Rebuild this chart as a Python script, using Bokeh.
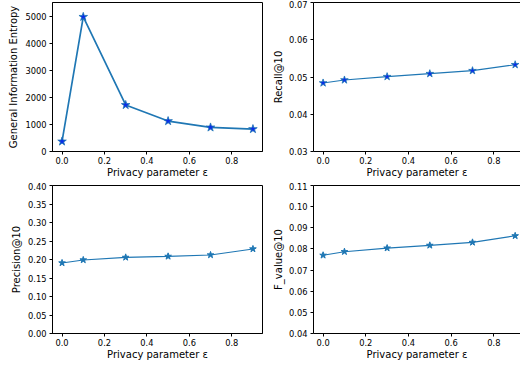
from bokeh.plotting import figure
from bokeh.layouts import gridplot
from bokeh.models import FixedTicker, NumeralTickFormatter, LinearAxis, Range1d
from bokeh.embed import file_html
from bokeh.resources import INLINE

# ---- data ----
eps = [0.0, 0.1, 0.3, 0.5, 0.7, 0.9]
entropy = [371, 4980, 1720, 1125, 890, 830]
recall = [0.0484, 0.0492, 0.0501, 0.0509, 0.0517, 0.0533]
precision = [0.1907, 0.1988, 0.2058, 0.2085, 0.2123, 0.2285]
fvalue = [0.0770, 0.0787, 0.0804, 0.0817, 0.0831, 0.0862]

x_ticks = [0.0, 0.2, 0.4, 0.6, 0.8]
entropy_ticks = [0, 1000, 2000, 3000, 4000, 5000]
recall_ticks = [0.03, 0.04, 0.05, 0.06, 0.07]
precision_ticks = [0.0, 0.05, 0.10, 0.15, 0.20, 0.25, 0.30, 0.35, 0.40]
fvalue_ticks = [0.04, 0.05, 0.06, 0.07, 0.08, 0.09, 0.10, 0.11]

XLABEL = "Privacy parameter ε"
FONT = "DejaVu Sans"
TICK_FS = "8.3px"
LABEL_FS = "10px"
LINE = "#1f77b4"


def style_axis(ax):
    ax.axis_label_text_font = FONT
    ax.axis_label_text_font_size = LABEL_FS
    ax.axis_label_text_font_style = "normal"
    ax.axis_label_text_color = "black"
    ax.major_label_text_font = FONT
    ax.major_label_text_font_size = TICK_FS
    ax.major_label_text_color = "black"
    ax.axis_line_color = "black"
    ax.major_tick_line_color = "black"
    ax.major_tick_in = 0
    ax.major_tick_out = 3
    ax.minor_tick_line_color = None


def make(width, height, xr, yr, yticks, yfmt, ylabel, mbl, mbr, mbt, mbb, outline, ylstand):
    p = figure(width=width, height=height, output_backend="svg", toolbar_location=None,
               x_range=Range1d(*xr), y_range=Range1d(*yr),
               min_border_left=mbl, min_border_right=mbr,
               min_border_top=mbt, min_border_bottom=mbb)
    p.grid.visible = False
    p.background_fill_color = "white"
    p.border_fill_color = "white"
    xa = p.xaxis[0]
    ya = p.yaxis[0]
    style_axis(xa)
    style_axis(ya)
    xa.ticker = FixedTicker(ticks=x_ticks)
    xa.formatter = NumeralTickFormatter(format="0.0")
    xa.axis_label = XLABEL
    xa.major_label_standoff = 2
    xa.axis_label_standoff = 0
    ya.ticker = FixedTicker(ticks=yticks)
    ya.formatter = NumeralTickFormatter(format=yfmt)
    ya.axis_label = ylabel
    ya.major_label_standoff = 3
    ya.axis_label_standoff = ylstand
    if outline:
        p.outline_line_color = "black"
        p.outline_line_width = 1
    else:
        p.outline_line_color = None
        top = LinearAxis(ticker=FixedTicker(ticks=[]),
                         major_tick_line_color=None, minor_tick_line_color=None,
                         major_label_text_font_size="0px", major_tick_out=0,
                         major_tick_in=0, major_label_standoff=0,
                         axis_line_color="black")
        p.add_layout(top, "above")
    return p


XL = (-0.045, 0.945)
XR = (-0.045, 0.925)

p1 = make(263, 182, XL, (0, 5510), entropy_ticks, "0", "General Information Entropy",
          52, 1, 2, 31, True, 3)
p1.line(eps, entropy, line_color=LINE, line_width=1.7)
p1.scatter(eps, entropy, marker="star", size=9, fill_color="#0a2ee8", line_color=LINE, line_width=0.8)

p2 = make(257, 182, XR, (0.03, 0.07), recall_ticks, "0.00", "Recall@10",
          50, 0, 2, 31, False, 2)
p2.line(eps, recall, line_color=LINE, line_width=1.1)
p2.scatter(eps, recall, marker="star", size=8, fill_color="#0a2ee8", line_color=LINE, line_width=0.8)

p3 = make(263, 182, XL, (0.0, 0.40), precision_ticks, "0.00", "Precision@10",
          52, 1, 3, 31, True, 3)
p3.line(eps, precision, line_color=LINE, line_width=1.1)
p3.scatter(eps, precision, marker="star", size=7, fill_color=LINE, line_color=LINE)

p4 = make(257, 182, XR, (0.04, 0.11), fvalue_ticks, "0.00", "F_value@10",
          50, 0, 3, 31, False, 2)
p4.line(eps, fvalue, line_color=LINE, line_width=1.1)
p4.scatter(eps, fvalue, marker="star", size=7, fill_color=LINE, line_color=LINE)

grid = gridplot([[p1, p2], [p3, p4]], toolbar_location=None)

open("out.html", "w").write(file_html(grid, INLINE))
